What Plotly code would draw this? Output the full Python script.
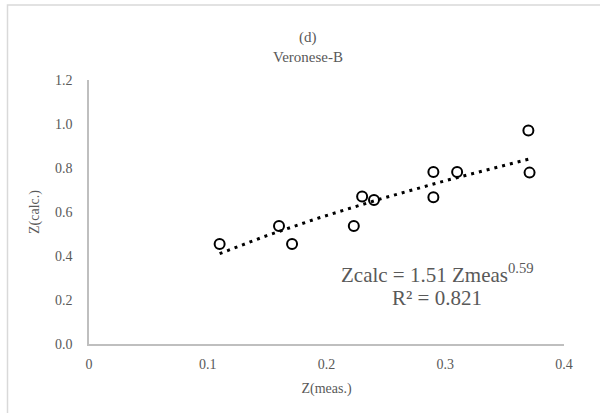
import numpy as np
import plotly.graph_objects as go

# Data
z_meas = [0.110, 0.160, 0.171, 0.223, 0.230, 0.240, 0.290, 0.290, 0.310, 0.370, 0.371]
z_calc = [0.455, 0.536, 0.455, 0.536, 0.670, 0.655, 0.782, 0.667, 0.782, 0.970, 0.779]

# Power trendline coefficients shown on the chart
coef_a = 1.51
coef_b = 0.59
r_squared = 0.821

x_ticks = [0, 0.1, 0.2, 0.3, 0.4]
x_tick_text = ["0", "0.1", "0.2", "0.3", "0.4"]
y_ticks = [0, 0.2, 0.4, 0.6, 0.8, 1.0, 1.2]
y_tick_text = ["0.0", "0.2", "0.4", "0.6", "0.8", "1.0", "1.2"]

FONT = "Liberation Serif"
GRAY = "#595959"

trend_x = np.linspace(min(z_meas), max(z_meas), 60)
trend_y = coef_a * trend_x ** coef_b

fig = go.Figure()
fig.add_trace(go.Scatter(
    x=trend_x, y=trend_y, mode="lines",
    line=dict(color="black", width=3, dash="3px,5px"),
    hoverinfo="skip", showlegend=False,
))
fig.add_trace(go.Scatter(
    x=z_meas, y=z_calc, mode="markers",
    marker=dict(symbol="circle-open", size=10, color="black",
                line=dict(width=2, color="black")),
    showlegend=False,
))

# plot area: x 89..564 px, y 80..344 px
L, R, T, B = 89, 36, 80, 69
W, H = 600, 413
pw, ph = W - L - R, H - T - B

def px(x):
    return (x - L) / pw

def py(y):
    return (H - B - y) / ph

def ann(text, x, y, size):
    return dict(text=text, x=px(x), y=py(y), xref="paper", yref="paper",
                xanchor="center", yanchor="middle", showarrow=False,
                font=dict(family=FONT, size=size, color=GRAY))

fig.update_layout(
    width=W, height=H,
    margin=dict(l=L, r=R, t=T, b=B),
    paper_bgcolor="white", plot_bgcolor="white",
    font=dict(family=FONT, color=GRAY, size=14),
    xaxis=dict(
        range=[0, 0.4], tickvals=x_ticks, ticktext=x_tick_text,
        showgrid=False, zeroline=False, showline=True,
        linecolor="#BFBFBF", linewidth=1.5,
        ticks="outside", ticklen=6, tickcolor="rgba(0,0,0,0)",
        tickfont=dict(family=FONT, size=14, color=GRAY),
        title=dict(text="Z(meas.)", font=dict(family=FONT, size=14, color=GRAY), standoff=13),
    ),
    yaxis=dict(
        range=[0, 1.2], tickvals=y_ticks, ticktext=y_tick_text,
        showgrid=False, zeroline=False, showline=True,
        linecolor="#BFBFBF", linewidth=1.5,
        ticks="outside", ticklen=12, tickcolor="rgba(0,0,0,0)",
        tickfont=dict(family=FONT, size=14, color=GRAY),
        title=dict(text="Z(calc.)", font=dict(family=FONT, size=14, color=GRAY), standoff=12),
    ),
    shapes=[dict(
        type="rect", xref="paper", yref="paper",
        x0=px(7.5), x1=px(610), y0=py(425), y1=py(5),
        line=dict(color="#D9D9D9", width=1.5), fillcolor="rgba(0,0,0,0)", layer="below",
    )],
    annotations=[
        ann("(d)", 308, 38, 15),
        ann("Veronese-B", 308, 57, 15),
        ann(f"Zcalc = {coef_a:.2f} Zmeas<sup>{coef_b:.2f}</sup>", 437, 273, 21),
        ann(f"R² = {r_squared:.3f}", 437, 298, 21),
    ],
)

fig.write_html("out.html", config={"displayModeBar": False},
               post_script="document.body.style.margin='0';")
